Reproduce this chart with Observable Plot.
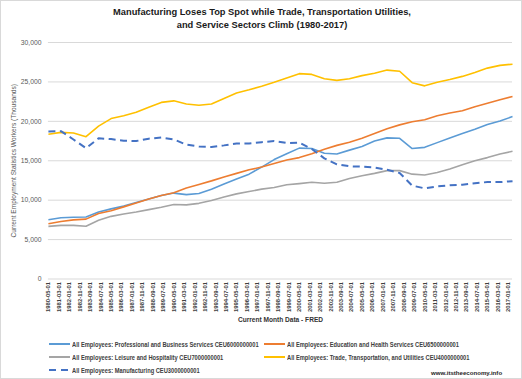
<!DOCTYPE html>
<html>
<head>
<meta charset="utf-8">
<script src="https://cdn.jsdelivr.net/npm/d3@7"></script>
<script src="https://cdn.jsdelivr.net/npm/@observablehq/plot@0.6"></script>
<style>
  html, body { margin: 0; padding: 0; background: #fff; }
  #chart { position: relative; width: 522px; height: 379px; box-sizing: border-box; border: 1px solid #d9d9d9; background: #fff; overflow: hidden; font-family: "Liberation Sans", Arial, sans-serif; }
  #title { position: absolute; left: 0; top: 5px; width: 522px; text-align: center; font-weight: bold; font-size: 9.3px; line-height: 13.4px; color: #1a1a1a; }
  #plot { position: absolute; left: -1px; top: 35px; }
  #plot svg text { font-family: "Liberation Sans", Arial, sans-serif; }
  .leg { position: absolute; font-size: 6.3px; font-weight: bold; color: #404040; white-space: nowrap; display: flex; align-items: center; }
  .leg svg { margin-right: 2px; flex: none; }
  .leg span { display: inline-block; transform: scaleX(0.91); transform-origin: left center; }
  #credit { position: absolute; left: 430px; top: 368px; font-size: 6.1px; font-weight: bold; color: #262626; white-space: nowrap; }
</style>
</head>
<body>
<div id="chart">
  <div id="title">Manufacturing Loses Top Spot while Trade, Transportation Utilities,<br>and Service Sectors Climb (1980-2017)</div>
  <div id="plot"></div>
  <div id="legend"></div>
  <div id="credit">www.itstheeconomy.info</div>
</div>
<script>
const years = [1980,1981,1982,1983,1984,1985,1986,1987,1988,1989,1990,1991,1992,1993,1994,1995,1996,1997,1998,1999,2000,2001,2002,2003,2004,2005,2006,2007,2008,2009,2010,2011,2012,2013,2014,2015,2016,2017];

const professional = [7520,7770,7830,7860,8500,8900,9250,9700,10150,10600,10900,10700,10850,11400,12050,12700,13300,14200,15150,15900,16600,16550,15950,15850,16350,16800,17500,17900,17850,16550,16700,17300,17900,18450,19000,19600,20050,20600];
const education = [7000,7300,7500,7600,8300,8650,9150,9650,10150,10600,10950,11550,12000,12450,12950,13400,13850,14200,14650,15100,15400,15900,16450,16950,17350,17850,18450,19050,19550,19950,20200,20700,21050,21350,21850,22300,22750,23150];
const leisure = [6680,6800,6800,6700,7450,7950,8250,8500,8800,9100,9450,9400,9600,9950,10400,10800,11100,11400,11600,11950,12100,12270,12150,12270,12750,13100,13400,13750,13750,13300,13200,13500,13950,14500,15000,15400,15850,16200];
const trade = [18370,18600,18530,18050,19400,20350,20700,21150,21800,22400,22600,22200,22050,22200,22900,23600,24000,24450,24950,25500,26050,25950,25400,25200,25400,25800,26100,26500,26350,24900,24500,24950,25300,25700,26200,26750,27100,27250];
const manufacturing = [18700,18750,17700,16600,17850,17750,17550,17500,17800,17950,17700,17050,16800,16750,16950,17200,17200,17350,17500,17250,17300,16500,15300,14550,14300,14250,14150,13850,13450,11850,11500,11750,11900,11970,12150,12300,12300,12400];

const seriesNames = [
  "All Employees: Professional and Business Services CEU6000000001",
  "All Employees: Education and Health Services CEU6500000001",
  "All Employees: Leisure and Hospitality CEU7000000001",
  "All Employees: Trade, Transportation, and Utilities CEU4000000001",
  "All Employees: Manufacturing CEU3000000001"
];
const seriesValues = [professional, education, leisure, trade, manufacturing];
const seriesColors = ["#5B9BD5", "#ED7D31", "#A5A5A5", "#FFC000", "#4472C4"];

const tickLabels = ["1980-05-01","1981-03-01","1982-01-01","1982-11-01","1983-09-01","1984-07-01","1985-05-01","1986-03-01","1987-01-01","1987-11-01","1988-09-01","1989-07-01","1990-05-01","1991-03-01","1992-01-01","1992-11-01","1993-09-01","1994-07-01","1995-05-01","1996-03-01","1997-01-01","1997-11-01","1998-09-01","1999-07-01","2000-05-01","2001-03-01","2002-01-01","2002-11-01","2003-09-01","2004-07-01","2005-05-01","2006-03-01","2007-01-01","2007-11-01","2008-09-01","2009-07-01","2010-05-01","2011-03-01","2012-01-01","2012-11-01","2013-09-01","2014-07-01","2015-05-01","2016-03-01","2017-01-01"];
const yTicks = [0,5000,10000,15000,20000,25000,30000];

const xTitle = "Current Month Data - FRED";
const yTitle = "Current Employment Statistics Workers (Thousands)";

const parse = d3.utcParse("%Y-%m-%d");
const fmt = d3.utcFormat("%Y-%m-%d");
const rows = [];
seriesValues.forEach((vals, s) => {
  vals.forEach((v, i) => rows.push({series: seriesNames[s], date: new Date(Date.UTC(years[i], 4, 1)), value: v}));
});
const tickDates = tickLabels.map(parse);

const lineMarks = seriesNames.map((name, s) =>
  Plot.lineY(rows.filter(r => r.series === name), {
    x: "date", y: "value", stroke: seriesColors[s],
    strokeWidth: s === 4 ? 2 : 1.6,
    strokeDasharray: s === 4 ? "7,4.5" : null,
    strokeLinejoin: "round", strokeLinecap: "butt"
  })
);

const chart = Plot.plot({
  width: 522, height: 300,
  marginLeft: 48, marginRight: 9, marginTop: 6, marginBottom: 57,
  style: {fontSize: "7px", color: "#595959", background: "transparent", overflow: "visible"},
  x: {type: "utc", domain: [new Date(Date.UTC(1980,4,1)), new Date(Date.UTC(2017,4,1))]},
  y: {domain: [0, 30000]},
  marks: [
    Plot.gridY(yTicks, {stroke: "#d9d9d9", strokeOpacity: 1, strokeWidth: 1}),
    Plot.axisY(yTicks, {tickSize: 0, tickPadding: 7, tickFormat: d3.format(","), label: null, fill: "#595959", fontSize: 6.8}),
    Plot.axisX(tickDates, {tickSize: 0, tickPadding: 3, tickRotate: -90, tickFormat: fmt, label: null, fill: "#404040", fontWeight: "bold", fontSize: 5.9}),
    ...lineMarks,
    Plot.text([xTitle], {frameAnchor: "bottom", dy: 43, fontWeight: "bold", fontSize: 6.6, fill: "#333"}),
    Plot.text([yTitle], {frameAnchor: "left", textAnchor: "middle", rotate: -90, dx: -35, fontSize: 6.6, fill: "#595959"})
  ]
});
document.getElementById("plot").appendChild(chart);

// legend
const legendPos = [[48, 343], [263, 343], [48, 356], [263, 356], [48, 369]];
const legend = document.getElementById("legend");
seriesNames.forEach((name, s) => {
  const d = document.createElement("div");
  d.className = "leg";
  d.style.left = legendPos[s][0] + "px";
  d.style.top = (legendPos[s][1] - 5) + "px";
  d.style.height = "10px";
  const dash = s === 4 ? 'stroke-dasharray="7,5"' : "";
  d.innerHTML = `<svg width="21" height="6"><line x1="0" y1="3" x2="21" y2="3" stroke="${seriesColors[s]}" stroke-width="2" ${dash}/></svg><span>${name}</span>`;
  legend.appendChild(d);
});
</script>
</body>
</html>
